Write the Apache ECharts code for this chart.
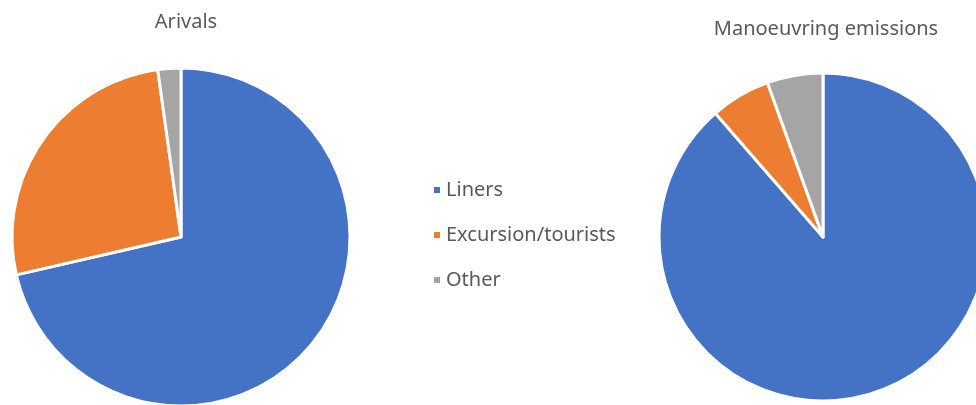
<!DOCTYPE html>
<html lang="en">
<head>
    <meta http-equiv="Content-Type" content="text/html; charset=UTF-8">
    <title>Arivals / Manoeuvring emissions</title>
    <script type="text/javascript" src="https://cdn.jsdelivr.net/npm/echarts@6/dist/echarts.min.js"></script>
    <style>
        html, body { margin: 0; padding: 0; background: #fff; }
        #chart { width: 976px; height: 405px; }
    </style>
</head>
<body>
<div id="chart"></div>
<script type="text/javascript">
    // categories and shares (in %)
    var categories = ['Liners', 'Excursion/tourists', 'Other'];
    var arrivals = [71.4, 26.4, 2.2];
    var manoeuvring = [88.6, 5.9, 5.5];
    var colors = ['#4472C4', '#ED7D31', '#A5A5A5'];

    function toData(values) {
        return categories.map(function (name, i) {
            return { name: name, value: values[i] };
        });
    }

    var myChart = echarts.init(document.getElementById('chart'));
    var font = '"Noto Sans", sans-serif';

    myChart.setOption({
        color: colors,
        animation: false,
        title: [{
            text: 'Arivals',
            left: 181,
            top: 7,
            textAlign: 'center',
            textStyle: { color: '#595959', fontSize: 20, fontWeight: 'normal', fontFamily: font }
        }, {
            text: 'Manoeuvring emissions',
            left: 821,
            top: 14,
            textAlign: 'center',
            textStyle: { color: '#595959', fontSize: 20, fontWeight: 'normal', fontFamily: font }
        }],
        legend: {
            data: categories,
            orient: 'vertical',
            left: 427,
            top: 175,
            icon: 'rect',
            itemWidth: 8,
            itemHeight: 8,
            itemGap: 25,
            textStyle: { color: '#595959', fontSize: 20, fontFamily: font }
        },
        series: [{
            name: 'Arivals',
            type: 'pie',
            center: [181, 237],
            radius: 169,
            startAngle: 90,
            clockwise: true,
            label: { show: false },
            labelLine: { show: false },
            itemStyle: { borderColor: '#fff', borderWidth: 3 },
            data: toData(arrivals)
        }, {
            name: 'Manoeuvring emissions',
            type: 'pie',
            center: [823, 237],
            radius: 164,
            startAngle: 90,
            clockwise: true,
            label: { show: false },
            labelLine: { show: false },
            itemStyle: { borderColor: '#fff', borderWidth: 3 },
            data: toData(manoeuvring)
        }]
    });
</script>
</body>
</html>
